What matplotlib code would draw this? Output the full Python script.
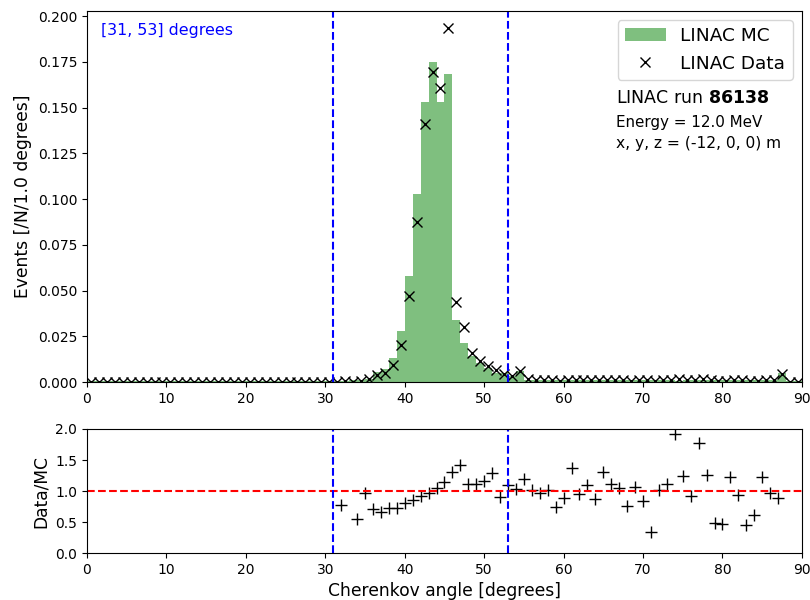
import numpy as np
import matplotlib
matplotlib.use("Agg")
import matplotlib.pyplot as plt

# Cherenkov angle binning: 1 degree bins from 0 to 90
bin_edges = np.arange(0, 91, 1)

# Normalised MC prediction per bin (bins 0..89)
mc_counts = np.array([
    0.0004, 0.0005, 0.0004, 0.0006, 0.0005, 0.0004, 0.0005, 0.0006, 0.0004, 0.0005,
    0.0005, 0.0004, 0.0006, 0.0005, 0.0004, 0.0005, 0.0005, 0.0006, 0.0004, 0.0005,
    0.0004, 0.0005, 0.0006, 0.0005, 0.0004, 0.0005, 0.0006, 0.0005, 0.0005, 0.0006,
    0.0005, 0.0006, 0.0007, 0.0009, 0.0012, 0.0018, 0.0054, 0.0071, 0.0130, 0.0280,
    0.0579, 0.1030, 0.1530, 0.1750, 0.1530, 0.1685, 0.0338, 0.0211, 0.0142, 0.0104,
    0.0075, 0.0051, 0.0049, 0.0031, 0.0060, 0.00126, 0.0012, 0.0011, 0.0010, 0.0011,
    0.0010, 0.0009, 0.0010, 0.0011, 0.0010, 0.0009, 0.0010, 0.0010, 0.0009, 0.0010,
    0.0010, 0.0009, 0.0010, 0.0009, 0.0008, 0.0009, 0.0010, 0.0009, 0.0009, 0.0010,
    0.0010, 0.0009, 0.0010, 0.0010, 0.0010, 0.0009, 0.0010, 0.0048, 0.0005, 0.0005,
])

# Normalised LINAC data per bin (bins 0..89)
data_counts = np.array([
    0.0, 0.0, 0.0, 0.0, 0.0, 0.0, 0.0, 0.0, 0.0, 0.0,
    0.0, 0.0, 0.0, 0.0, 0.0, 0.0, 0.0, 0.0, 0.0, 0.0,
    0.0, 0.0, 0.0, 0.0, 0.0, 0.0, 0.0, 0.0, 0.0, 0.0,
    0.0, 0.0, 0.00054, 0.0, 0.00066, 0.00175, 0.0038, 0.0047, 0.0094, 0.0202,
    0.0470, 0.0873, 0.1410, 0.1696, 0.1610, 0.1933, 0.0440, 0.0300, 0.0157, 0.0115,
    0.0087, 0.0066, 0.0044, 0.0034, 0.0062, 0.0015, 0.00122, 0.00107, 0.00102, 0.00082,
    0.00089, 0.00124, 0.00095, 0.00121, 0.00087, 0.00117, 0.00112, 0.00105, 0.00068, 0.00106,
    0.00084, 0.00031, 0.00102, 0.00100, 0.00154, 0.00112, 0.00092, 0.00160, 0.00113, 0.00048,
    0.00046, 0.00110, 0.00094, 0.00045, 0.00061, 0.00111, 0.00096, 0.00428, 0.0, 0.0,
])

angle_window = (31, 53)
run_number = "86138"
energy_mev = 12.0
position = (-12, 0, 0)

bin_left = bin_edges[:-1]
bin_centres = 0.5 * (bin_edges[:-1] + bin_edges[1:])

# Data/MC ratio where data is present
has_data = (data_counts > 0) & (mc_counts > 0)
ratio = np.full_like(data_counts, np.nan)
ratio[has_data] = data_counts[has_data] / mc_counts[has_data]

fig = plt.figure(figsize=(8.1, 6.0), dpi=100)
ax_main = fig.add_axes([0.1074, 0.3633, 0.8826, 0.6187])
ax_ratio = fig.add_axes([0.1074, 0.0783, 0.8826, 0.2067])

# Upper panel: MC histogram and data points
ax_main.hist(bin_left, bins=bin_edges, weights=mc_counts, color="green",
             alpha=0.5, label="LINAC MC")
ax_main.plot(bin_centres, data_counts, linestyle="none", marker="x",
             color="black", markersize=6.5, label="LINAC Data")
for edge in angle_window:
    ax_main.axvline(edge, color="blue", linestyle="--", linewidth=1.5)

ax_main.set_xlim(0, 90)
ax_main.set_ylim(0, 1.05 * data_counts.max())
ax_main.set_ylabel("Events [/N/1.0 degrees]", fontsize=12.3)
ax_main.yaxis.set_major_formatter(matplotlib.ticker.FormatStrFormatter("%.3f"))
ax_main.tick_params(labelsize=10)

ax_main.legend(loc="upper right", fontsize=13.3, handlelength=2.2)
ax_main.text(0.02, 0.946, f"[{angle_window[0]}, {angle_window[1]}] degrees",
             transform=ax_main.transAxes, color="blue", fontsize=11.4,
             ha="left", va="center")
ax_main.text(0.74, 0.765, rf"LINAC run $\bf{{{run_number}}}$",
             transform=ax_main.transAxes, fontsize=12.5, ha="left", va="center")
ax_main.text(0.74, 0.700, f"Energy = {energy_mev:.1f} MeV",
             transform=ax_main.transAxes, fontsize=10.9, ha="left", va="center")
ax_main.text(0.74, 0.642,
             f"x, y, z = ({position[0]}, {position[1]}, {position[2]}) m",
             transform=ax_main.transAxes, fontsize=11.2, ha="left", va="center")

# Lower panel: Data/MC ratio
ax_ratio.plot(bin_left, ratio, linestyle="none", marker="+", color="black",
              markersize=8)
ax_ratio.axhline(1.0, color="red", linestyle="--", linewidth=1.5)
for edge in angle_window:
    ax_ratio.axvline(edge, color="blue", linestyle="--", linewidth=1.5)
ax_ratio.set_xlim(0, 90)
ax_ratio.set_ylim(0, 2)
ax_ratio.set_yticks([0.0, 0.5, 1.0, 1.5, 2.0])
ax_ratio.set_xlabel("Cherenkov angle [degrees]", fontsize=12.3)
ax_ratio.set_ylabel("Data/MC", fontsize=12.3)
ax_ratio.tick_params(labelsize=10)

fig.savefig("out.png", dpi=100)
